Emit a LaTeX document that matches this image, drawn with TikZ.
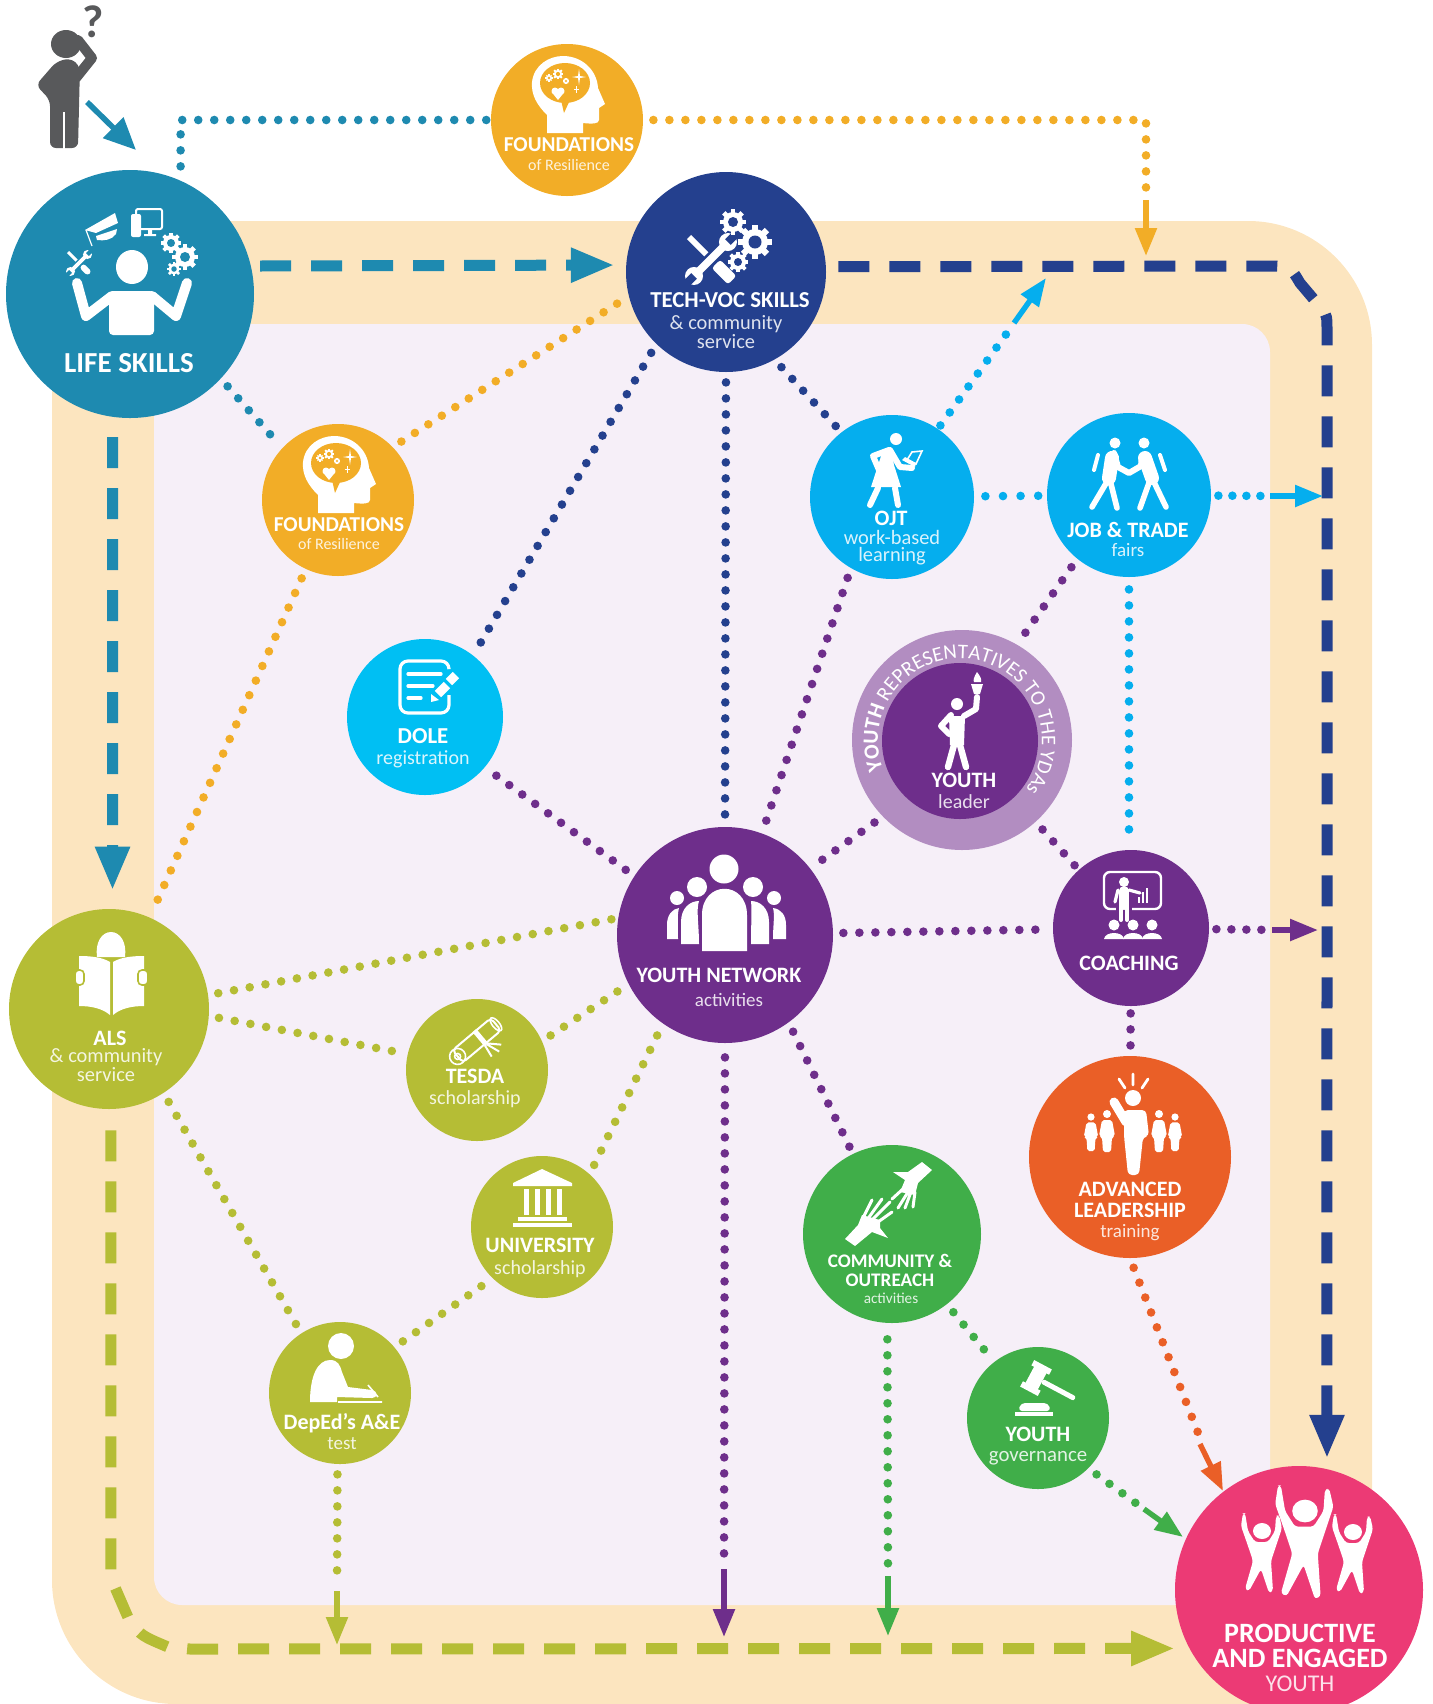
\documentclass[tikz,border=0pt]{standalone}
\usepackage{fontspec}
\setmainfont{Carlito}
\usetikzlibrary{arrows.meta,decorations.text}

\definecolor{bandc}{HTML}{FCE5BF}
\definecolor{innerc}{HTML}{F6EFF8}
\definecolor{manc}{HTML}{58595B}
\definecolor{lifec}{HTML}{1E8AB0}
\definecolor{foundc}{HTML}{F2AD27}
\definecolor{techc}{HTML}{24408E}
\definecolor{skyc}{HTML}{05AEEE}
\definecolor{dolec}{HTML}{00BFF3}
\definecolor{netc}{HTML}{6E2E8B}
\definecolor{ringc}{HTML}{B28DC1}
\definecolor{alsc}{HTML}{B5BD35}
\definecolor{greenc}{HTML}{40AE49}
\definecolor{advc}{HTML}{EA5F27}
\definecolor{prodc}{HTML}{EC3A75}

\tikzset{
  cnode/.style={fill=#1,circle,inner sep=0pt},
  tb/.style={text=white,inner sep=0pt,font=\fontsize{#1}{#1}\bfseries\selectfont},
  tl/.style={text=white,text opacity=.85,inner sep=0pt,font=\fontsize{#1}{#1}\selectfont},
  dotline/.style={draw=#1,line width=4.3pt,line cap=round,dash pattern=on 0pt off 8pt,shorten <=5pt,shorten >=5pt},
  tipline/.style={draw=#1,line width=2.7pt,-{Triangle[length=14pt,width=10.5pt]}},
  dashline/.style={draw=#1,line width=5.5pt,dash pattern=on 15.5pt off 10pt,-{Triangle[length=22pt,width=16pt]}},
  limb/.style={draw=white,line cap=round,line join=round,line width=#1},
}

% x, y, outer radius, hole colour
\newcommand\gearic[4]{%
  \fill[white] (#1,#2) circle[radius=#3];
  \foreach \a in {0,45,...,315}
    \fill[white,shift={(#1,#2)},rotate=\a] (#3*.85,-#3*.24) rectangle (#3*1.3,#3*.24);
  \fill[#4] (#1,#2) circle[radius=#3*.5];
}
% x, y, scale, background
\newcommand\toolsic[4]{%
  \begin{scope}[shift={(#1,#2)},scale=#3]
    \begin{scope}[rotate=-45]
      \fill[white] (-31,-3) rectangle (4,3);
      \fill[white,rounded corners=1.5pt] (7,-6) rectangle (30,6);
    \end{scope}
    \begin{scope}[rotate=45]
      \fill[#4] (-20,-6.5) rectangle (20,6.5);
      \fill[white] (-21,-3.8) rectangle (21,3.8);
      \foreach \s in {-1,1} {
        \fill[white] (\s*24,0) circle[radius=9];
        \fill[#4] (\s*24,-4) rectangle (\s*36,4);
      }
    \end{scope}
  \end{scope}
}
% x, y, colour
\newcommand\headic[3]{%
  \begin{scope}[shift={(#1,#2)}]
    \fill[white] (-20,13) -- (-20,-5) .. controls (-30,-15) and (-36,-25) .. (-35,-38)
      .. controls (-33,-55) and (-18,-64) .. (-4,-64) .. controls (15,-64) and (30,-50) .. (31,-32)
      -- (38,-16) -- (32,-12) -- (32,0) .. controls (32,4) and (25,4) .. (16,3) -- (16,13) -- cycle;
    \fill[#3] (-2,-37) ellipse[x radius=25,y radius=20];
    \fill[#3] (-6,-20) -- (3,-20) -- (-3,-7) -- cycle;
    \gearic{-9}{-46}{4.2}{#3}
    \gearic{-18}{-42}{2.8}{#3}
    \gearic{-1}{-39}{2.4}{#3}
    \fill[white] (-12,-29) circle[radius=3.5] (-6,-29) circle[radius=3.5];
    \fill[white] (-15.3,-27.8) -- (-9,-20) -- (-2.7,-27.8) -- cycle;
    \fill[white] (12,-51) -- (13,-44) -- (19,-43) -- (13,-42) -- (12,-35) -- (11,-42) -- (5,-43) -- (11,-44) -- cycle;
    \draw[white,line width=.4pt] (9,-34) -- (9,-27) (6.5,-30.5) -- (11.5,-30.5);
  \end{scope}
}
% x, y of the head, scale
\newcommand\minifig[3]{%
  \begin{scope}[shift={(#1,#2)},scale=#3]
    \fill[white] (0,0) circle[radius=4];
    \fill[white,rounded corners=1pt] (-5,6) -- (5,6) -- (8,22) -- (5,23) -- (4,38) -- (-4,38) -- (-5,23) -- (-8,22) -- cycle;
  \end{scope}
}
% x, y of the head, scale
\newcommand\cheerfig[3]{%
  \begin{scope}[shift={(#1,#2)},scale=#3]
    \fill[white,rounded corners=1.5pt] (-19,-18) -- (-21,-5) -- (-14,15) -- (-9,30) -- (-17,58) -- (-13,60)
      -- (-1,38) -- (7,62) -- (11,60) -- (9,30) -- (14,15) -- (20,-3) -- (17,-16) -- (14,-15)
      -- (13,0) -- (6,11) -- (-7,11) -- (-14,0) -- (-17,-18) -- cycle;
    \fill[white] (0,0) ellipse[x radius=9,y radius=8];
  \end{scope}
}

\begin{document}
\begin{tikzpicture}[x=.5pt,y=-.5pt]
    \useasboundingbox (0,0) rectangle (1432,1704);

    % bands
    \fill[bandc,rounded corners=62pt] (52,221) rectangle (1372,1704);
    \fill[innerc,rounded corners=14pt] (154,324) rectangle (1270,1605);

    % circles
    \node[cnode=lifec,minimum size=124pt] (life) at (130,294) {};
    \node[cnode=foundc,minimum size=76pt] (ftop) at (567,120) {};
    \node[cnode=techc,minimum size=100pt] (tech) at (726,272) {};
    \node[cnode=foundc,minimum size=76pt] (f2) at (338,500) {};
    \node[cnode=dolec,minimum size=78pt] (dole) at (425,717) {};
    \node[cnode=skyc,minimum size=82pt] (ojt) at (892,497) {};
    \node[cnode=skyc,minimum size=82pt] (job) at (1129,495) {};
    \node[cnode=ringc,minimum size=110pt] (ring) at (962,740) {};
    \node[cnode=netc,minimum size=78pt] (lead) at (960,741) {};
    \node[cnode=netc,minimum size=78pt] (coach) at (1131,928) {};
    \node[cnode=netc,minimum size=108pt] (net) at (725,935) {};
    \node[cnode=alsc,minimum size=100pt] (als) at (109,1009) {};
    \node[cnode=alsc,minimum size=71pt] (tesda) at (477,1070) {};
    \node[cnode=alsc,minimum size=71pt] (univ) at (542,1227) {};
    \node[cnode=alsc,minimum size=71pt] (dep) at (340,1393) {};
    \node[cnode=greenc,minimum size=89pt] (comm) at (892,1234) {};
    \node[cnode=greenc,minimum size=71pt] (gov) at (1038,1418) {};
    \node[cnode=advc,minimum size=101pt] (adv) at (1130,1157) {};
    \node[cnode=prodc,minimum size=124pt] (prod) at (1299,1590) {};

    % free ends
    \coordinate (mana) at (87,102);
    \coordinate (lifea) at (136,150);
    \coordinate (fdrop) at (1146,200);
    \coordinate (ftip) at (1146,256);
    \coordinate (ojtd) at (1012,326);
    \coordinate (ojts) at (1014,323);
    \coordinate (ojtt) at (1046,278);
    \coordinate (jobd) at (1272,496);
    \coordinate (jobs) at (1270,496);
    \coordinate (jobt) at (1323,496);
    \coordinate (coachd) at (1277,930);
    \coordinate (coachs) at (1272,930);
    \coordinate (coacht) at (1318,930);
    \coordinate (advd) at (1202,1443);
    \coordinate (advs) at (1200,1444);
    \coordinate (advt) at (1223,1491);
    \coordinate (govd) at (1148,1512);
    \coordinate (govs) at (1144,1509);
    \coordinate (govt) at (1183,1537);
    \coordinate (commd) at (888,1576);
    \coordinate (comms) at (888,1576);
    \coordinate (commt) at (888,1636);
    \coordinate (netd) at (724,1567);
    \coordinate (nets) at (724,1569);
    \coordinate (nett) at (724,1637);
    \coordinate (depd) at (337,1588);
    \coordinate (deps) at (337,1591);
    \coordinate (dept) at (337,1645);
    \coordinate (bluea) at (1265,266);
    \coordinate (bluec) at (1290,266);
    \coordinate (blueb) at (1300,283);
    \coordinate (bluee) at (1322,309);
    \coordinate (bluef) at (1327,316);
    \coordinate (blueg) at (1327,332);
    \coordinate (olivea) at (111,1578);
    \coordinate (oliveb) at (117,1592);
    \coordinate (olivec) at (130,1622);
    \coordinate (olivee) at (142,1636);
    \coordinate (olivef) at (168,1647);
    \coordinate (oliveg) at (190,1649);

    % dashed routes
    \draw[dashline=lifec,shorten <=4.5pt,shorten >=5.5pt] (life.13) -- (tech.176);
    \draw[dashline=lifec,shorten <=10pt,shorten >=9pt] (life.262) -- (als.88);
    \draw[dashline=techc,shorten <=6pt,shorten >=5pt] (tech.3) -- (bluea) .. controls (bluec) .. (blueb) -- (bluee) .. controls (bluef) .. (blueg) -- (prod.77);
    \draw[dashline=alsc,shorten <=10.5pt,shorten >=7pt] (als.271) -- (olivea) -- (oliveb) -- (olivec) .. controls (olivee) .. (olivef) -- (oliveg) -- (prod.208);
    \draw[draw=lifec,line width=2.8pt,-{Triangle[length=16pt,width=14pt]}] (mana) -- (lifea);

    % dotted links
    \foreach \a/\b/\c in {life.317/f2.137/lifec,f2.44/tech.194/foundc,f2.245/als.66/foundc,
      tech.226/dole.52/techc,tech.270/net.90/techc,
      ojt.240/net.70/netc,job.231/ring.60/netc,
      ring.224/net.38/netc,net/coach/netc,
      comm.308/gov.128/greenc,als.303/dep.123/alsc,dep.40/univ.226/alsc,
      univ.48/net.235/alsc,als.356/tesda.167/alsc}
      \draw[dotline=\c] (\a) -- (\b);
    \draw[dotline=techc,shorten >=2pt] (tech.299) -- (ojt.128);
    \draw[dotline=netc,shorten >=2pt] (ring.312) -- (coach.132);
    \draw[dotline=netc,shorten >=2pt] (net.306) -- (comm.116);
    \draw[dotline=netc,shorten <=3.5pt,shorten >=2pt] (coach) -- (adv);
    \draw[dotline=netc,shorten <=7pt,shorten >=3pt] (dole.320) -- (net.147);
    \draw[dotline=alsc,shorten >=2pt] (tesda.24) -- (net.207);
    \draw[dotline=alsc,shorten >=1.5pt] (als.8) -- (net.171);
    \draw[dotline=skyc,dash pattern=on 0pt off 8.8pt,shorten <=5.5pt,shorten >=2pt] (ojt) -- (job);
    \draw[dotline=lifec,shorten <=7pt,shorten >=2pt] (life.66) |- (ftop);
    \draw[dotline=foundc] (ftop) -| (fdrop);
    \draw[dotline=skyc,shorten <=6pt,shorten >=9pt] (job.270) -- (job.270 |- coach.90);
    \draw[dotline=skyc,shorten <=2pt] (ojt.56) -- (ojtd);
    \draw[dotline=skyc,dash pattern=on 0pt off 7pt,shorten <=3.5pt] (job) -- (jobd);
    \draw[dotline=netc,dash pattern=on 0pt off 7.5pt,shorten <=3.5pt] (coach) -- (coachd);
    \draw[dotline=advc] (adv.270) -- (advd);
    \draw[dotline=greenc] (gov.315) -- (govd);
    \draw[dotline=greenc,shorten <=8pt] (comm.267) -- (commd);
    \draw[dotline=netc,shorten <=7pt] (net.270) -- (netd);
    \draw[dotline=alsc] (dep.268) -- (depd);

    % solid arrows
    \foreach \a/\b/\c in {fdrop/ftip/foundc,ojts/ojtt/skyc,jobs/jobt/skyc,coachs/coacht/netc,
      advs/advt/advc,govs/govt/greenc,comms/commt/greenc,nets/nett/netc,deps/dept/alsc}
      \draw[tipline=\c] (\a) -- (\b);

    % man
    \fill[manc] (66,44) ellipse[x radius=15,y radius=14];
    \fill[manc,rounded corners=3pt] (56,62) -- (36,85) -- (50,100) -- (50,148) -- (78,148) -- (80,66) -- (70,58) -- cycle;
    \draw[manc,line width=5pt,line cap=round,line join=round] (76,78) -- (92,58) -- (78,40);
    \draw[white,line width=1pt] (64,112) -- (64,150);
    \node[text=manc,inner sep=0pt,font=\fontsize{23}{23}\bfseries\selectfont] (qmark) at (93,22) {?};

    % life skills icon
    \fill[white] (132,267) ellipse[x radius=16,y radius=17];
    \fill[white,rounded corners=2pt] (109,291) -- (154,291) -- (154,335) -- (109,335) -- cycle;
    \draw[limb=5pt] (77,283) -- (86,316) -- (112,296);
    \draw[limb=5pt] (187,283) -- (176,316) -- (152,296);
    \fill[white] (85,230) -- (115,213) -- (118,223) -- (96,233) -- cycle;
    \fill[white] (96,236) -- (117,229) -- (116,234) .. controls (112,240) and (104,241) .. (97,240) -- cycle;
    \draw[white,line width=.6pt] (86,230) -- (92,246);
    \draw[white,line width=1pt,rounded corners=1pt] (136,209) rectangle (162,229);
    \fill[white,rounded corners=1pt] (131,214) rectangle (141,237);
    \fill[white] (148,229) rectangle (152,234) (144,234) rectangle (156,236);
    \gearic{171}{243}{8}{lifec}
    \gearic{185}{257}{10}{lifec}
    \gearic{174}{269}{5.5}{lifec}
    \toolsic{79}{263}{.5}{lifec}

    % heads
    \headic{567}{120}{foundc}
    \headic{338}{500}{foundc}

    % tech-voc icon
    \toolsic{711}{259}{1}{techc}
    \gearic{733}{222}{10}{techc}
    \gearic{755}{242}{13}{techc}
    \gearic{738}{262}{8}{techc}

    % dole icon
    \draw[white,line width=1.6pt,rounded corners=4pt] (449,695) -- (449,713) -- (400,713) -- (400,661) -- (449,661) -- (449,668);
    \draw[limb=1.6pt] (408,674) -- (441,674) (408,686) -- (433,686) (408,698) -- (421,698);
    \draw[dolec,line width=7pt] (433,699) -- (456,675);
    \draw[white,line width=4.5pt] (438,694) -- (447,685) (449,682) -- (456,675);
    \fill[white] (431,702) -- (431,694) -- (439,700) -- cycle;

    % ojt icon
    \fill[white] (896,439) circle[radius=6];
    \fill[white] (871,487) -- (883,450) -- (891,448) -- (894,465) -- (901,487) -- cycle;
    \draw[limb=3pt] (889,450) -- (873,456) -- (879,470);
    \draw[limb=3pt] (890,450) -- (900,467) -- (912,468);
    \draw[limb=3pt] (878,488) -- (870,505) (895,488) -- (898,505);
    \fill[white] (902,460) -- (915,467) -- (916,463) -- (905,457) -- cycle;
    \draw[white,line width=.8pt] (912,452) -- (922,451) -- (916,464) -- (907,460) -- cycle;

    % job icon
    \fill[white] (1115,443) circle[radius=5.5] (1144,443) circle[radius=5.5];
    \draw[limb=7pt] (1112,458) -- (1109,478);
    \draw[limb=7pt] (1145,458) -- (1152,478);
    \draw[limb=3pt] (1114,453) -- (1118,467) -- (1129,473) -- (1141,466) -- (1142,456);
    \draw[limb=2.8pt] (1108,480) -- (1092,507) (1110,480) -- (1117,508);
    \draw[limb=2.8pt] (1150,480) -- (1140,508) (1153,480) -- (1166,507);
    \draw[limb=2pt] (1098,455) -- (1094,470) (1160,455) -- (1165,470);

    % youth leader icon
    \fill[white] (957,704) circle[radius=6];
    \fill[white] (949,716) -- (965,716) -- (964,745) -- (950,745) -- cycle;
    \draw[limb=3.2pt] (954,745) -- (948,767) (960,745) -- (966,767);
    \draw[limb=3pt] (964,716) -- (976,709) -- (977,697);
    \draw[limb=3pt] (951,715) -- (941,726) -- (949,734);
    \fill[white] (971,684) -- (983,684) -- (980,694) -- (974,694) -- cycle;
    \fill[white] (977,672) .. controls (974,677) and (973,680) .. (974,682) -- (981,682) .. controls (982,679) and (980,676) .. (977,672);

    % coaching icon
    \draw[white,line width=1.2pt,rounded corners=3pt] (1104,872) rectangle (1161,909);
    \fill[netc] (1116,900) rectangle (1132,915);
    \fill[white] (1124,882) circle[radius=5];
    \draw[limb=5pt] (1124,891) -- (1124,905);
    \draw[limb=2pt] (1121,905) -- (1121,920) (1127,905) -- (1127,920);
    \draw[limb=1.6pt] (1118,890) -- (1115,902) (1129,890) -- (1140,893);
    \draw[white,line width=1.4pt] (1139,903) -- (1139,897) (1143,903) -- (1143,892) (1147,903) -- (1147,888);
    \foreach \x in {1114,1133,1152} {
      \fill[white] (\x,925) circle[radius=5.5];
      \fill[white] (\x-10,939) .. controls (\x-9,931) and (\x+9,931) .. (\x+10,939) -- cycle;
    }

    % network icon
    \fill[white] (702,951) -- (702,915) .. controls (702,880) and (747,880) .. (747,915) -- (747,951) -- cycle;
    \fill[white] (724,869) circle[radius=14.5];
    \fill[white] (681,944) -- (681,922) .. controls (681,908) and (690,901) .. (699,901) .. controls (696,910) and (699,925) .. (699,944) -- cycle;
    \fill[white] (769,944) -- (769,922) .. controls (769,908) and (760,901) .. (751,901) .. controls (752,910) and (751,925) .. (751,944) -- cycle;
    \fill[white] (697,887) circle[radius=10] (753,887) circle[radius=10];
    \fill[white] (667,939) -- (667,925) .. controls (667,915) and (672,909) .. (679,908) .. controls (677,915) and (678,925) .. (678,939) -- cycle;
    \fill[white] (786,939) -- (786,925) .. controls (786,915) and (781,909) .. (773,908) .. controls (775,915) and (773,925) .. (773,939) -- cycle;
    \fill[white] (677,898) circle[radius=7] (774,898) circle[radius=7];

    % als icon
    \fill[white] (97,957) .. controls (95,942) and (102,932) .. (111,932) .. controls (120,932) and (127,942) .. (125,957) -- cycle;
    \fill[white] (79,956) .. controls (90,956) and (102,957) .. (110,962) -- (110,1015) .. controls (102,1008) and (90,1006) .. (79,1006) -- cycle;
    \fill[white] (144,956) .. controls (133,956) and (121,957) .. (113,962) -- (113,1015) .. controls (121,1008) and (133,1006) .. (144,1006) -- cycle;
    \fill[white,draw=alsc,line width=.8pt,rounded corners=2pt] (75,970) rectangle (84,985);
    \fill[white,draw=alsc,line width=.8pt,rounded corners=2pt] (138,970) rectangle (148,985);

    % tesda icon
    \begin{scope}[shift={(476,1041)},rotate=40]
      \draw[white,line width=1pt,rounded corners=2pt] (-24,-8) rectangle (26,8);
      \draw[white,line width=.8pt] (-24,0) circle[radius=8];
      \draw[white,line width=.8pt] (-24,0) circle[radius=3];
      \draw[white,line width=.8pt] (26,0) ellipse[x radius=3.5,y radius=8];
      \fill[white] (3,-9) rectangle (8,9);
      \draw[white,line width=1pt] (4,9) -- (2,22) (6,9) -- (11,23) (7,9) -- (17,19);
    \end{scope}

    % university icon
    \fill[white] (513,1183) -- (542,1169) -- (572,1183) -- (572,1186) -- (513,1186) -- cycle;
    \foreach \x in {526,537.5,548.5,559.5}
      \fill[white] (\x-2.5,1189) rectangle (\x+2.5,1215);
    \fill[white] (518,1217) rectangle (567,1221);
    \fill[white] (513,1223) rectangle (572,1227);

    % deped icon
    \fill[white] (341,1346) circle[radius=13];
    \fill[white] (310,1402) .. controls (310,1375) and (318,1360) .. (330,1360) .. controls (338,1360) and (340,1365) .. (342,1372) -- (348,1387) -- (372,1390) .. controls (378,1391) and (378,1398) .. (372,1398) -- (337,1397) -- (337,1402) -- cycle;
    \draw[white,line width=.8pt] (338,1402) -- (382,1402) (368,1385) -- (378,1397);

    % community icon
    \fill[white] (922,1162) -- (932,1170) -- (918,1183) -- (915,1195) -- (900,1192) -- (905,1180) -- (893,1172) -- (908,1172) -- cycle;
    \draw[limb=1.5pt] (904,1188) -- (892,1199) (908,1192) -- (898,1208) (911,1192) -- (905,1208) (915,1192) -- (913,1207);
    \fill[white] (845,1239) -- (855,1246) -- (872,1232) -- (888,1238) -- (880,1228) -- (880,1220) -- (862,1215) -- (858,1225) -- cycle;
    \draw[limb=1.5pt] (862,1220) -- (872,1200) (867,1220) -- (882,1199) (872,1220) -- (890,1202) (878,1222) -- (892,1212);

    % gavel icon
    \fill[white] (1015,1412) rectangle (1053,1416);
    \fill[white,rounded corners=2pt] (1018,1411) -- (1021,1403) -- (1048,1403) -- (1051,1411) -- cycle;
    \begin{scope}[shift={(1036,1378)},rotate=-28]
      \fill[white] (-7,-11) rectangle (7,11);
      \fill[white] (-10,9) rectangle (10,15);
      \fill[white] (-10,-15) rectangle (10,-9);
      \fill[white,rounded corners=1pt] (7,-2.5) rectangle (44,2.5);
    \end{scope}

    % leadership icon
    \fill[white] (1133,1098) circle[radius=8];
    \draw[limb=4.5pt] (1114,1102) -- (1126,1122);
    \fill[white,rounded corners=2pt] (1124,1110) -- (1146,1110) -- (1149,1136) -- (1143,1137) -- (1139,1175) -- (1128,1175) -- (1124,1136) -- cycle;
    \draw[limb=1.4pt] (1119,1079) -- (1125,1088) (1133,1074) -- (1133,1085) (1148,1079) -- (1142,1088);
    \minifig{1091}{1117}{.9}
    \minifig{1107}{1114}{1}
    \minifig{1159}{1114}{1}
    \minifig{1175}{1117}{.9}

    % productive icon
    \cheerfig{1262}{1531}{1}
    \cheerfig{1353}{1532}{1}
    \cheerfig{1305}{1511}{1.42}

    % ring text
    \path[decorate,decoration={text along path,text align=center,
      text={|\color{white}\fontsize{10.8}{10.8}\bfseries\selectfont|YOUTH |\color{white}\fontsize{10.4}{10.4}\selectfont|REPRESENTATIVES TO THE YDAs}}]
      (885,774) arc[start angle=204,end angle=-40,radius=41pt];

    % labels
    \node[tb=14.5] (lifet) at (129,363) {LIFE SKILLS};
    \node[tb=10.6] (ftopt) at (569,145) {FOUNDATIONS};
    \node[tl=8] (ftops) at (569,165) {of Resilience};
    \node[tb=11.4] (techt) at (730,300) {TECH-VOC SKILLS};
    \node[tl=10.2] (techs) at (726,324) {\& community};
    \node[tl=10.2] (techr) at (726,342) {service};
    \node[tb=10.6] (f2t) at (339,525) {FOUNDATIONS};
    \node[tl=8] (f2s) at (339,544) {of Resilience};
    \node[tb=11.4] (dolet) at (423,736) {DOLE};
    \node[tl=10] (doles) at (423,759) {registration};
    \node[tb=11] (ojtt1) at (891,518) {OJT};
    \node[tl=10.2] (ojts1) at (892,537) {work-based};
    \node[tl=10.2] (ojts2) at (892,556) {learning};
    \node[tb=11] (jobt1) at (1128,530) {JOB \& TRADE};
    \node[tl=9.5] (jobs1) at (1128,550) {fairs};
    \node[tb=11] (leadt) at (964,780) {YOUTH};
    \node[tl=10] (leads) at (964,802) {leader};
    \node[tb=11] (coacht1) at (1129,963) {COACHING};
    \node[tb=11] (nett1) at (719,975) {YOUTH NETWORK};
    \node[tl=9.5] (nets1) at (729,1000) {activities};
    \node[tb=11] (alst) at (110,1038) {ALS};
    \node[tl=10.2] (alss) at (106,1057) {\& community};
    \node[tl=10.2] (alsr) at (106,1075) {service};
    \node[tb=11] (tesdat) at (475,1076) {TESDA};
    \node[tl=10] (tesdas) at (475,1099) {scholarship};
    \node[tb=11] (univt) at (540,1245) {UNIVERSITY};
    \node[tl=10] (univs) at (540,1269) {scholarship};
    \node[tb=11] (dept1) at (342,1423) {DepEd’s A\&E};
    \node[tl=9.5] (deps1) at (342,1444) {test};
    \node[tb=9.6] (commt1) at (890,1261) {COMMUNITY \&};
    \node[tb=9.6] (commt2) at (890,1280) {OUTREACH};
    \node[tl=7.6] (comms1) at (891,1298) {activities};
    \node[tb=11] (govt1) at (1038,1434) {YOUTH};
    \node[tl=10.4] (govs1) at (1038,1458) {governance};
    \node[tb=11] (advt1) at (1130,1189) {ADVANCED};
    \node[tb=11] (advt2) at (1130,1210) {LEADERSHIP};
    \node[tl=9.5] (advs1) at (1130,1233) {training};
    \node[tb=14] (prodt1) at (1300,1633) {PRODUCTIVE};
    \node[tb=14] (prodt2) at (1300,1658) {AND ENGAGED};
    \node[tl=12] (prods1) at (1300,1684) {YOUTH};
\end{tikzpicture}
\end{document}
